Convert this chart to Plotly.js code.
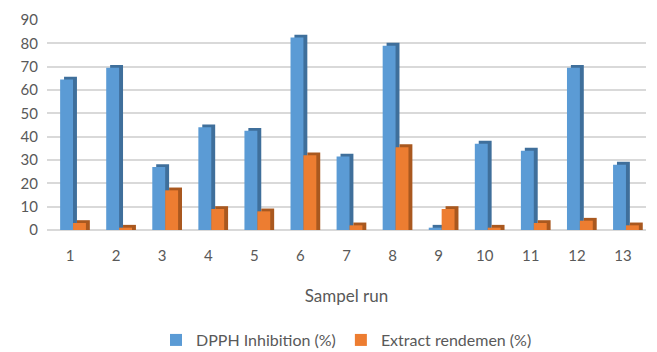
<!DOCTYPE html>
<html>
<head>
<meta charset="utf-8">
<script src="https://cdn.plot.ly/plotly-3.0.1.min.js"></script>
<style>html,body{margin:0;padding:0;background:#fff;}#chart{width:657px;height:352px;}</style>
</head>
<body>
<div id="chart"></div>
<script>
const categories = ["1","2","3","4","5","6","7","8","9","10","11","12","13"];
const dpphInhibition = [64.5, 69.5, 27, 44, 42.5, 82.5, 31.5, 79, 1, 37, 34, 69.5, 28];
const extractRendemen = [3, 1, 17, 9, 8, 32, 2, 35.5, 9, 1, 3, 4, 2];
const yTicks = [0,10,20,30,40,50,60,70,80,90];

const textColor = '#595959';
// pseudo-3D look: a darker copy of each bar sits slightly right and above the front face
const depthUp = 1.2;      // in value units
const depthRight = 0.085; // in category units
const faceW = 0.28;
const blueOff = -0.215, orangeOff = 0.065;
const raised = arr => arr.map(v => v + depthUp);

const data = [
  {type:'bar', name:'DPPH side', x:categories, y:raised(dpphInhibition), showlegend:false,
   offset:blueOff + depthRight, width:faceW, marker:{color:'#3F6F9B', line:{width:0}}, hoverinfo:'skip'},
  {type:'bar', name:'DPPH Inhibition (%)', x:categories, y:dpphInhibition,
   offset:blueOff, width:faceW, marker:{color:'#5B9BD5', line:{width:0}}},
  {type:'bar', name:'Extract side', x:categories, y:raised(extractRendemen), showlegend:false,
   offset:orangeOff + depthRight, width:faceW, marker:{color:'#A9581F', line:{width:0}}, hoverinfo:'skip'},
  {type:'bar', name:'Extract rendemen (%)', x:categories, y:extractRendemen,
   offset:orangeOff, width:faceW, marker:{color:'#ED7D31', line:{width:0}}}
];
const layout = {
  width:657, height:352,
  margin:{l:47, r:11, t:20, b:122},
  paper_bgcolor:'#fff', plot_bgcolor:'#fff',
  font:{family:'Lato, "Open Sans", sans-serif', color:textColor, size:15},
  barmode:'overlay',
  showlegend:true,
  legend:{orientation:'h', x:0.5, xanchor:'center', yref:'container', y:0.034, yanchor:'middle',
          font:{size:16, color:textColor}, itemwidth:30},
  xaxis:{type:'category', tickvals:categories, showgrid:false, showline:false, zeroline:false,
         automargin:false, ticks:'', tickfont:{size:15, color:textColor}, ticklabelstandoff:15,
         title:{text:'Sampel run', font:{size:17, color:textColor}, standoff:27}},
  yaxis:{range:[0,90], tickvals:yTicks, showgrid:true, gridcolor:'#D9D9D9', gridwidth:2,
         zeroline:true, zerolinecolor:'#D9D9D9', zerolinewidth:2, showline:false, automargin:false,
         ticks:'', tickfont:{size:15, color:textColor}, ticklabelstandoff:8}
};
Plotly.newPlot('chart', data, layout, {displayModeBar:false, staticPlot:true});
</script>
</body>
</html>
